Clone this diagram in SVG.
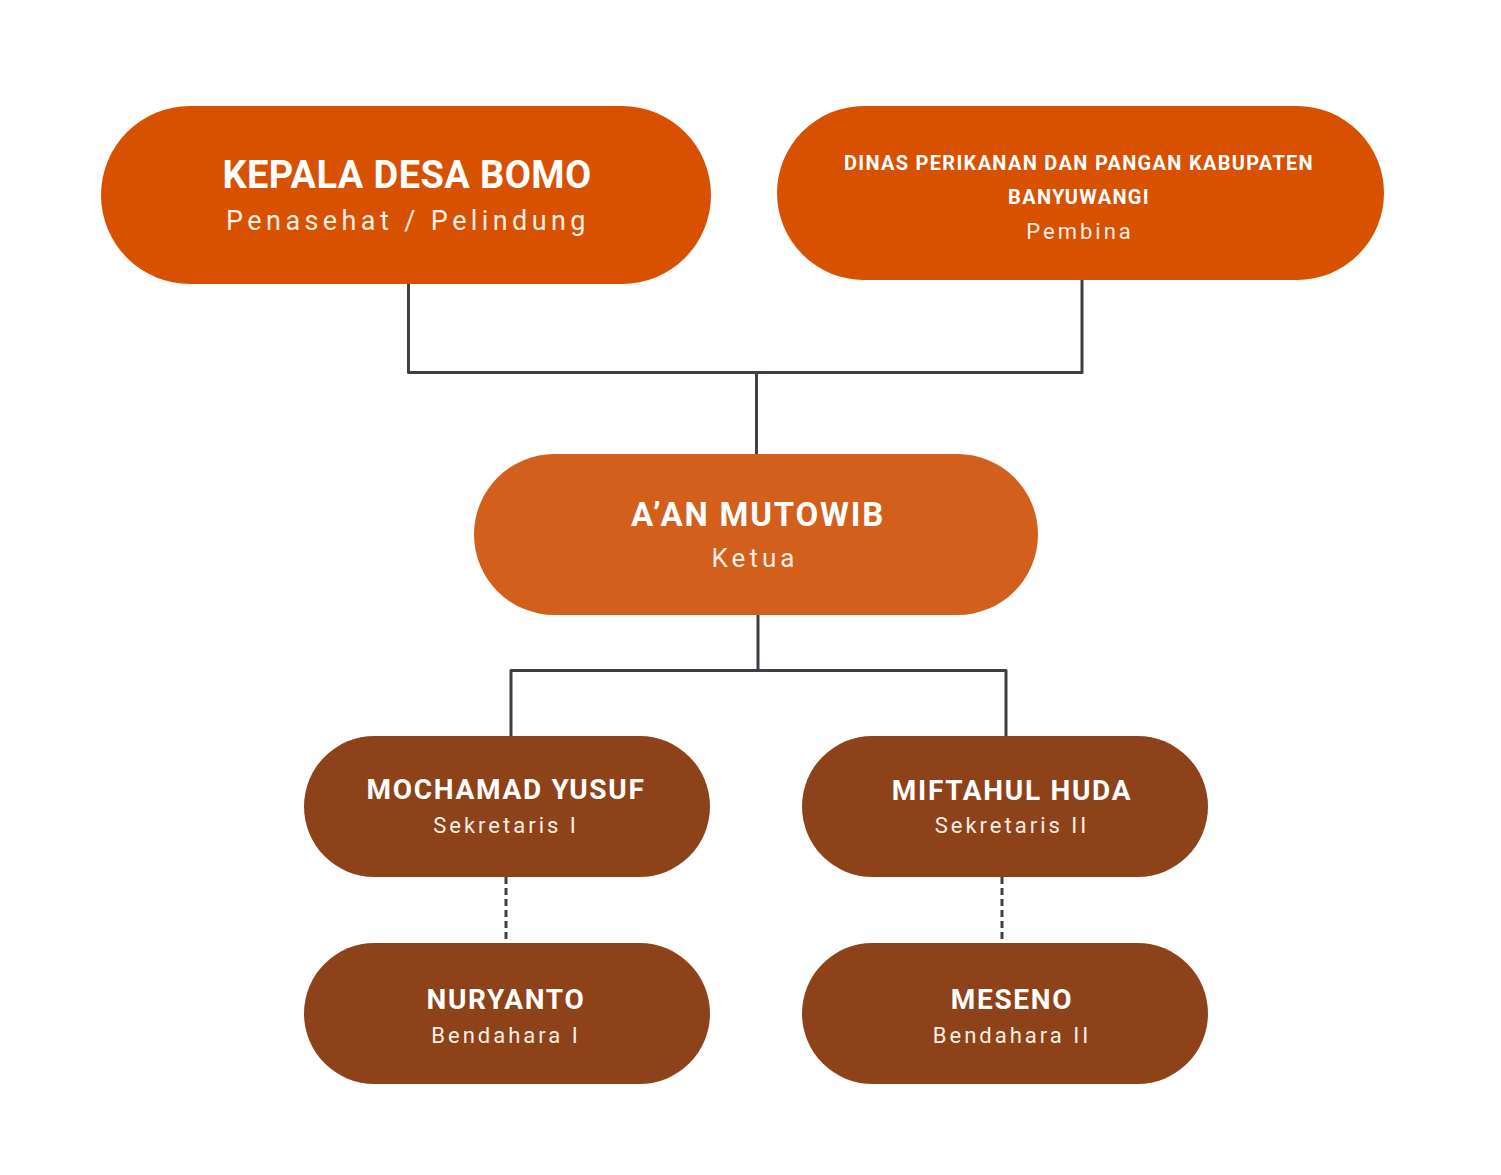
<svg xmlns="http://www.w3.org/2000/svg" width="1501" height="1175" viewBox="0 0 1501 1175">
<style>
.title{font-family:Roboto,"Liberation Sans",sans-serif;font-weight:700;fill:#ffffff;text-anchor:middle}
.sub{font-family:Roboto,"Liberation Sans",sans-serif;font-weight:400;fill:#fbeee6;text-anchor:middle}
.top{fill:#d75101}
.mid{fill:#d25f1c}
.low{fill:#8e421a}
.line{stroke:#3d4045;stroke-width:3;fill:none;stroke-linejoin:round;stroke-linecap:round}
.dash{stroke:#3d4045;stroke-width:3;fill:none;stroke-dasharray:7 4}
</style>
<rect width="1501" height="1175" fill="#ffffff"/>
<g id="connectors">
<path class="line" d="M408.5 284 V372.5 H1082 V280"/>
<path class="line" d="M756.5 372.5 V454"/>
<path class="line" d="M758 615 V670.5 H511 V736"/>
<path class="line" d="M758 670.5 H1006 V736"/>
<path class="dash" d="M506 877 V943"/>
<path class="dash" d="M1002 877 V943"/>
</g>
<g id="kepala-desa">
<rect class="top" x="101" y="106" width="610" height="178" rx="89"/>
<text class="title" x="407" y="188" font-size="38" letter-spacing="0.4">KEPALA DESA BOMO</text>
<text class="sub" x="408" y="230" font-size="27" letter-spacing="4.4">Penasehat / Pelindung</text>
</g>
<g id="dinas">
<rect class="top" x="777" y="106" width="607" height="174" rx="87"/>
<text class="title" x="1079" y="170" font-size="20" letter-spacing="1.3">DINAS PERIKANAN DAN PANGAN KABUPATEN</text>
<text class="title" x="1079" y="204" font-size="20" letter-spacing="1.3">BANYUWANGI</text>
<text class="sub" x="1080" y="239" font-size="22" letter-spacing="3">Pembina</text>
</g>
<g id="ketua">
<rect class="mid" x="474" y="454" width="564" height="161" rx="80.5"/>
<text class="title" x="758" y="526" font-size="33" letter-spacing="1.8">A’AN MUTOWIB</text>
<text class="sub" x="755" y="567" font-size="26" letter-spacing="4">Ketua</text>
</g>
<g id="sekretaris1">
<rect class="low" x="304" y="736" width="406" height="141" rx="70.5"/>
<text class="title" x="506" y="799" font-size="28" letter-spacing="1.7">MOCHAMAD YUSUF</text>
<text class="sub" x="506" y="833" font-size="22" letter-spacing="3">Sekretaris I</text>
</g>
<g id="sekretaris2">
<rect class="low" x="802" y="736" width="406" height="141" rx="70.5"/>
<text class="title" x="1012" y="800" font-size="28" letter-spacing="1.7">MIFTAHUL HUDA</text>
<text class="sub" x="1012" y="833" font-size="22" letter-spacing="3">Sekretaris II</text>
</g>
<g id="bendahara1">
<rect class="low" x="304" y="943" width="406" height="141" rx="70.5"/>
<text class="title" x="506" y="1009" font-size="28" letter-spacing="1.7">NURYANTO</text>
<text class="sub" x="506" y="1043" font-size="22" letter-spacing="3">Bendahara I</text>
</g>
<g id="bendahara2">
<rect class="low" x="802" y="943" width="406" height="141" rx="70.5"/>
<text class="title" x="1012" y="1009" font-size="28" letter-spacing="1.7">MESENO</text>
<text class="sub" x="1012" y="1043" font-size="22" letter-spacing="3">Bendahara II</text>
</g>
</svg>
